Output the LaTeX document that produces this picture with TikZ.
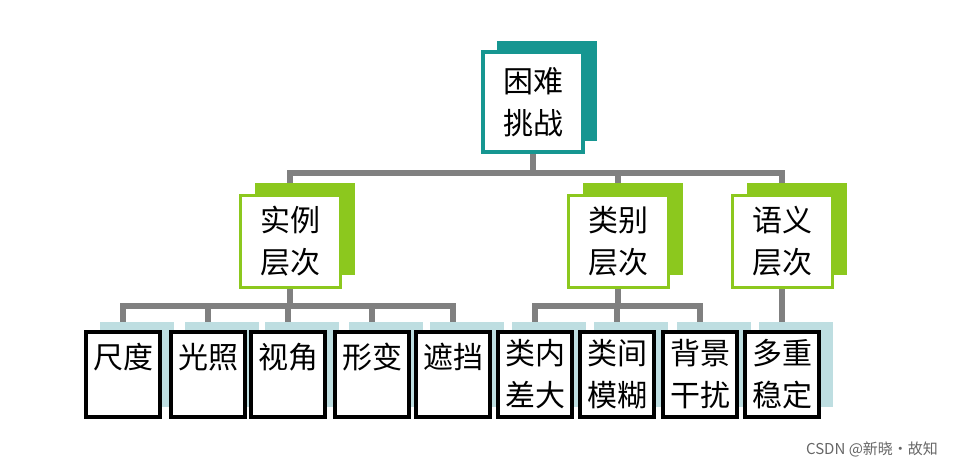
\documentclass[tikz,border=0pt]{standalone}
\usepackage{fontspec}
\newfontfamily\cjk{Noto Sans CJK SC}
\usetikzlibrary{shadows, backgrounds}
\definecolor{tealbox}{RGB}{22,150,145}
\definecolor{greenbox}{RGB}{140,200,30}
\definecolor{leafshade}{RGB}{190,222,225}
\definecolor{busgray}{RGB}{128,128,128}
\tikzset{
	topbox/.style={draw=tealbox, line width=1.6pt, fill=white, minimum width=50pt, minimum height=50pt, align=center,
		copy shadow={shadow xshift=7pt, shadow yshift=5.5pt, draw=none, fill=tealbox}},
	midbox/.style={draw=greenbox, line width=1.5pt, fill=white, minimum width=50pt, minimum height=46pt, align=center,
		copy shadow={shadow xshift=7.5pt, shadow yshift=6pt, draw=none, fill=greenbox}},
	leaf/.style={draw=black, line width=2pt, fill=white, minimum width=35pt, minimum height=42.5pt, align=center, anchor=north,
		copy shadow={shadow xshift=7pt, shadow yshift=5pt, draw=none, fill=leafshade}},
	oneline/.style={text depth=19pt},
	conn/.style={draw=busgray, line width=3pt}
}
\begin{document}
\begin{tikzpicture}[x=0.5pt, y=-0.5pt, font=\cjk\fontsize{15}{21}\selectfont]
	\useasboundingbox (0,0) rectangle (953,468);
	
	% top and middle level
	\node[topbox] (hard) at (533,102) {困难\\挑战};
	\node[midbox] (inst) at (290,241) {实例\\层次};
	\node[midbox] (cls) at (618,241) {类别\\层次};
	\node[midbox] (sem) at (782,241) {语义\\层次};
	
	% leaves
	\node[leaf, oneline] (scale) at (123,330) {尺度};
	\node[leaf, oneline] (light) at (208,330) {光照};
	\node[leaf, oneline] (view) at (288,330) {视角};
	\node[leaf, oneline] (deform) at (372,330) {形变};
	\node[leaf, oneline] (occl) at (453,330) {遮挡};
	\node[leaf] (intra) at (535,330) {类内\\差大};
	\node[leaf] (inter) at (617,330) {类间\\模糊};
	\node[leaf] (back) at (700,330) {背景\\干扰};
	\node[leaf] (multi) at (782,330) {多重\\稳定};
	
	\coordinate (busA) at (0,173);
	\coordinate (busB) at (0,306);
	
	% connectors
	\begin{pgfonlayer}{background}
		\draw[conn] (hard.south) -- (hard.south |- busA);
		\draw[conn] (inst.north) |- (sem.north |- busA) -- (sem.north);
		\draw[conn] (cls.north) -- (cls.north |- busA);
		\draw[conn] (inst.south) -- (inst.south |- busB);
		\draw[conn] (scale.north) |- (occl.north |- busB) -- (occl.north);
		\foreach \n in {light, view, deform}
			\draw[conn] (\n.north) -- (\n.north |- busB);
		\draw[conn] (cls.south) -- (cls.south |- busB);
		\draw[conn] (intra.north) |- (back.north |- busB) -- (back.north);
		\draw[conn] (inter.north) -- (inter.north |- busB);
		\draw[conn] (multi.north) -- (multi.north |- sem.south);
	\end{pgfonlayer}
	
	\node[text=black!60, font=\cjk\fontsize{7.5}{9}\selectfont, anchor=east] (mark) at (945,449) {CSDN @新晓·故知};
\end{tikzpicture}
\end{document}
